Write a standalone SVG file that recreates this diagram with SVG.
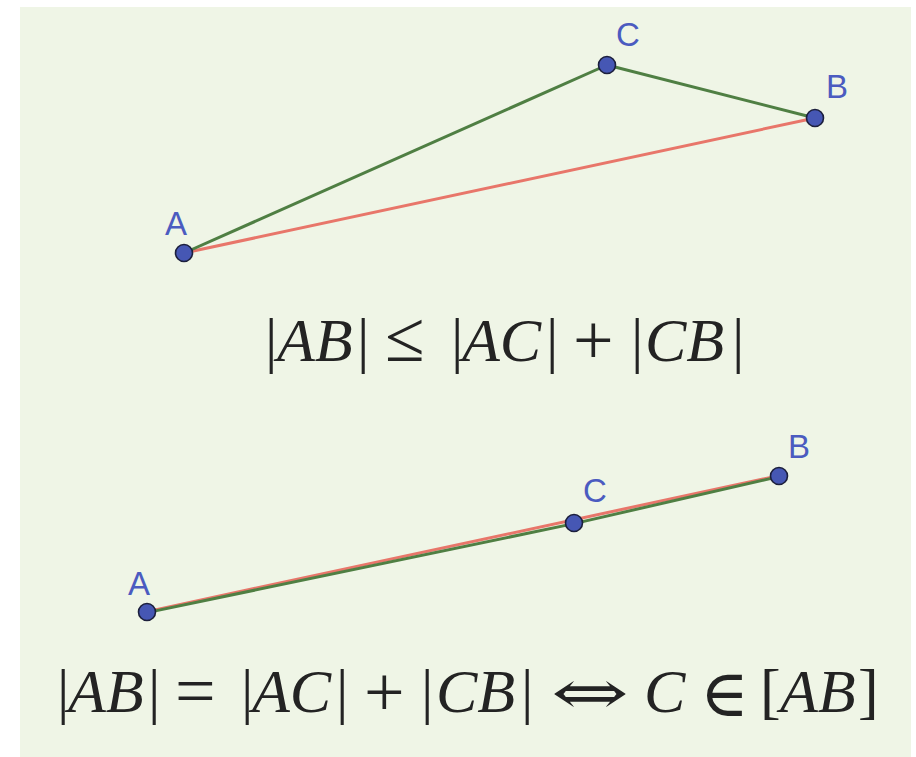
<svg xmlns="http://www.w3.org/2000/svg" width="916" height="757" viewBox="0 0 916 757">
<style>
.bg{fill:#eff5e6}
.g{stroke:#4f7f43;stroke-width:3;fill:none;stroke-linecap:round}
.r{stroke:#e8766a;stroke-width:3;fill:none;stroke-linecap:round}
.pt{fill:#4657b4;stroke:#1c1f3c;stroke-width:1.6}
.lbl{font-family:"Liberation Sans",Arial,sans-serif;font-size:33px;fill:#4b5bc0}
.eq{font-family:"Liberation Serif","DejaVu Serif",serif;font-size:62px;fill:#232323}
.it{font-style:italic}
.op{font-size:72px}
.arr{font-family:"DejaVu Serif",serif;font-size:62px}
.el{font-family:"DejaVu Serif",serif;font-size:66px}
</style>
<rect class="bg" x="20" y="7" width="891" height="750"/>
<g id="connectors">
<line class="r" x1="184" y1="253" x2="815" y2="118"/>
<line class="g" x1="184" y1="253" x2="607" y2="65"/>
<line class="g" x1="607" y1="65" x2="815" y2="118"/>
<line class="r" x1="147" y1="611.6" x2="779" y2="475.6"/>
<line class="g" x1="147" y1="612.6" x2="574" y2="523.6"/>
<line class="g" x1="574" y1="523.6" x2="779" y2="476.6"/>
</g>
<g id="A1"><circle class="pt" cx="184" cy="253" r="8.5"/><text class="lbl" x="165" y="235">A</text></g>
<g id="C1"><circle class="pt" cx="607" cy="65" r="8.5"/><text class="lbl" x="616" y="46">C</text></g>
<g id="B1"><circle class="pt" cx="815" cy="118" r="8.5"/><text class="lbl" x="826" y="98">B</text></g>
<g id="A2"><circle class="pt" cx="147" cy="612" r="8.5"/><text class="lbl" x="128" y="595">A</text></g>
<g id="C2"><circle class="pt" cx="574" cy="523" r="8.5"/><text class="lbl" x="583" y="502">C</text></g>
<g id="B2"><circle class="pt" cx="779" cy="476" r="8.5"/><text class="lbl" x="788" y="458">B</text></g>
<g id="eq1">
<text class="eq" y="361"><tspan x="265">|</tspan><tspan class="it" x="277">AB</tspan><tspan x="357">|</tspan><tspan x="451">|</tspan><tspan class="it" x="462">AC</tspan><tspan x="546">|</tspan><tspan x="631">|</tspan><tspan class="it" x="645">CB</tspan><tspan x="732">|</tspan></text>
<text class="eq op" x="385" y="361">≤</text>
<text class="eq op" x="573" y="364">+</text>
</g>
<g id="eq2">
<text class="eq" y="712"><tspan x="57">|</tspan><tspan class="it" x="68">AB</tspan><tspan x="148">|</tspan><tspan x="241">|</tspan><tspan class="it" x="252">AC</tspan><tspan x="336">|</tspan><tspan x="421">|</tspan><tspan class="it" x="436">CB</tspan><tspan x="521">|</tspan><tspan class="it" x="644">C</tspan><tspan x="760">[</tspan><tspan class="it" x="780">AB</tspan><tspan x="858">]</tspan></text>
<text class="eq op" x="175" y="715">=</text>
<text class="eq op" x="364" y="716">+</text>
<text class="eq arr" transform="translate(551,714) scale(1.5,1)">⇔</text>
<text class="eq el" x="700" y="716">∈</text>
</g>
</svg>
